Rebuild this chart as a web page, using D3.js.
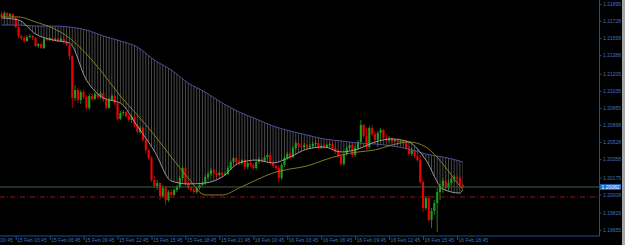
<!DOCTYPE html>
<html>
<head>
<meta charset="utf-8">
<script src="https://cdn.jsdelivr.net/npm/d3@7"></script>
<style>
  html, body { margin: 0; padding: 0; background: #000; }
  svg { display: block; }
</style>
</head>
<body>
<div id="chart"></div>
<script>
var width = 625;
var height = 245;
var plotRight = 599.5;
var plotBottom = 236;

// EURUSD M15, 15 Feb 02:30 .. 16 Feb 19:15
var barStartLabel = "15 Feb 02:30";
var barMinutes = 15;

var opens = [
  1.21796,1.21767,1.21806,1.21776,1.21796,1.21757,1.21667,1.21578,1.21558,1.21529,
  1.21568,1.21578,1.21558,1.21479,1.21499,1.21459,1.21549,1.21539,1.21558,1.21539,
  1.21549,1.21529,1.21549,1.21519,1.21489,1.21380,1.20964,1.21043,1.20944,1.21023,
  1.20974,1.20865,1.20984,1.20954,1.21003,1.20974,1.21013,1.20944,1.20865,1.20944,
  1.20984,1.20914,1.20756,1.20815,1.20825,1.20785,1.20746,1.20776,1.20696,1.20627,
  1.20667,1.20548,1.20449,1.20369,1.20151,1.20092,1.20121,1.19993,1.20072,1.19953,
  1.20032,1.20003,1.20052,1.20082,1.20171,1.20270,1.20112,1.20072,1.20052,1.20032,
  1.20072,1.20102,1.20121,1.20181,1.20211,1.20250,1.20221,1.20201,1.20221,1.20201,
  1.20211,1.20270,1.20330,1.20369,1.20330,1.20320,1.20349,1.20280,1.20320,1.20300,
  1.20270,1.20330,1.20359,1.20339,1.20379,1.20399,1.20320,1.20290,1.20270,1.20171,
  1.20300,1.20369,1.20409,1.20379,1.20468,1.20518,1.20488,1.20478,1.20498,1.20478,
  1.20488,1.20508,1.20518,1.20478,1.20488,1.20478,1.20498,1.20508,1.20468,1.20429,
  1.20389,1.20310,1.20409,1.20468,1.20498,1.20399,1.20468,1.20528,1.20696,1.20587,
  1.20478,1.20667,1.20607,1.20548,1.20617,1.20647,1.20567,1.20548,1.20567,1.20538,
  1.20548,1.20528,1.20538,1.20518,1.20468,1.20409,1.20449,1.20389,1.20349,1.20131,
  1.19874,1.19973,1.19755,1.19844,1.19923,1.20032,1.20092,1.20141,1.20072,1.20121,
  1.20161,1.20181,1.20171,1.20102
];
var highs = [
  1.21816,1.21826,1.21816,1.21806,1.21806,1.21767,1.21677,1.21588,1.21578,1.21588,
  1.21598,1.21588,1.21568,1.21509,1.21519,1.21568,1.21558,1.21568,1.21568,1.21558,
  1.21558,1.21568,1.21568,1.21529,1.21499,1.21390,1.21093,1.21063,1.21043,1.21053,
  1.20994,1.21003,1.21013,1.21023,1.21023,1.21033,1.21023,1.20964,1.20964,1.21003,
  1.20994,1.20924,1.20835,1.20845,1.20835,1.20805,1.20795,1.20785,1.20716,1.20686,
  1.20676,1.20567,1.20458,1.20389,1.20191,1.20151,1.20131,1.20102,1.20092,1.20052,
  1.20062,1.20072,1.20102,1.20191,1.20290,1.20300,1.20131,1.20092,1.20072,1.20092,
  1.20121,1.20141,1.20201,1.20230,1.20270,1.20260,1.20240,1.20240,1.20230,1.20230,
  1.20290,1.20349,1.20389,1.20379,1.20349,1.20359,1.20359,1.20339,1.20349,1.20320,
  1.20349,1.20379,1.20369,1.20399,1.20419,1.20409,1.20339,1.20310,1.20300,1.20320,
  1.20389,1.20429,1.20429,1.20488,1.20548,1.20538,1.20508,1.20518,1.20508,1.20508,
  1.20528,1.20538,1.20528,1.20498,1.20508,1.20508,1.20518,1.20528,1.20488,1.20449,
  1.20409,1.20429,1.20488,1.20518,1.20518,1.20488,1.20548,1.20746,1.20706,1.20667,
  1.20686,1.20696,1.20637,1.20637,1.20667,1.20657,1.20607,1.20587,1.20577,1.20558,
  1.20558,1.20548,1.20548,1.20548,1.20488,1.20468,1.20458,1.20449,1.20399,1.20151,
  1.19993,1.19993,1.19874,1.19953,1.20072,1.20112,1.20171,1.20191,1.20151,1.20181,
  1.20201,1.20201,1.20191,1.20112
];
var lows = [
  1.21757,1.21757,1.21767,1.21757,1.21747,1.21658,1.21558,1.21539,1.21509,1.21519,
  1.21558,1.21539,1.21469,1.21459,1.21449,1.21449,1.21529,1.21529,1.21519,1.21529,
  1.21519,1.21519,1.21499,1.21479,1.21340,1.20865,1.20934,1.20914,1.20904,1.20954,
  1.20845,1.20845,1.20934,1.20944,1.20954,1.20954,1.20924,1.20845,1.20855,1.20934,
  1.20894,1.20746,1.20746,1.20785,1.20766,1.20726,1.20716,1.20676,1.20607,1.20607,
  1.20528,1.20419,1.20349,1.20131,1.20072,1.20052,1.19953,1.19973,1.19903,1.19933,
  1.19983,1.19993,1.20032,1.20062,1.20151,1.20092,1.20052,1.20032,1.20012,1.20012,
  1.20052,1.20082,1.20102,1.20161,1.20191,1.20201,1.20181,1.20191,1.20181,1.20191,
  1.20201,1.20250,1.20310,1.20310,1.20300,1.20300,1.20250,1.20260,1.20280,1.20250,
  1.20250,1.20310,1.20320,1.20330,1.20359,1.20300,1.20270,1.20250,1.20131,1.20151,
  1.20280,1.20349,1.20359,1.20369,1.20449,1.20468,1.20458,1.20458,1.20458,1.20458,
  1.20468,1.20488,1.20458,1.20458,1.20458,1.20468,1.20478,1.20449,1.20409,1.20369,
  1.20290,1.20290,1.20389,1.20449,1.20379,1.20379,1.20449,1.20508,1.20567,1.20458,
  1.20458,1.20587,1.20528,1.20478,1.20548,1.20548,1.20538,1.20528,1.20518,1.20528,
  1.20518,1.20518,1.20498,1.20449,1.20389,1.20389,1.20369,1.20330,1.20112,1.19834,
  1.19854,1.19735,1.19676,1.19804,1.19636,1.19953,1.20022,1.20052,1.20052,1.20102,
  1.20131,1.20141,1.20072,1.20072
];
var closes = [
  1.21767,1.21806,1.21776,1.21796,1.21757,1.21667,1.21578,1.21558,1.21529,1.21568,
  1.21578,1.21558,1.21479,1.21499,1.21459,1.21549,1.21539,1.21558,1.21539,1.21549,
  1.21529,1.21549,1.21519,1.21489,1.21380,1.20964,1.21043,1.20944,1.21023,1.20974,
  1.20865,1.20984,1.20954,1.21003,1.20974,1.21013,1.20944,1.20865,1.20944,1.20984,
  1.20914,1.20756,1.20815,1.20825,1.20785,1.20746,1.20776,1.20696,1.20627,1.20667,
  1.20548,1.20449,1.20369,1.20151,1.20092,1.20121,1.19993,1.20072,1.19953,1.20032,
  1.20003,1.20052,1.20082,1.20171,1.20270,1.20112,1.20072,1.20052,1.20032,1.20072,
  1.20102,1.20121,1.20181,1.20211,1.20250,1.20221,1.20201,1.20221,1.20201,1.20211,
  1.20270,1.20330,1.20369,1.20330,1.20320,1.20349,1.20280,1.20320,1.20300,1.20270,
  1.20330,1.20359,1.20339,1.20379,1.20399,1.20320,1.20290,1.20270,1.20171,1.20300,
  1.20369,1.20409,1.20379,1.20468,1.20518,1.20488,1.20478,1.20498,1.20478,1.20488,
  1.20508,1.20518,1.20478,1.20488,1.20478,1.20498,1.20508,1.20468,1.20429,1.20389,
  1.20310,1.20409,1.20468,1.20498,1.20399,1.20468,1.20528,1.20696,1.20587,1.20478,
  1.20667,1.20607,1.20548,1.20617,1.20647,1.20567,1.20548,1.20567,1.20538,1.20548,
  1.20528,1.20538,1.20518,1.20468,1.20409,1.20449,1.20389,1.20349,1.20131,1.19874,
  1.19973,1.19755,1.19844,1.19923,1.20032,1.20092,1.20141,1.20072,1.20121,1.20161,
  1.20181,1.20171,1.20102,1.20082
];

// moving averages, read every 6 bars
var maIndex = [0,6,12,18,24,30,36,42,48,54,60,66,72,78,84,90,96,102,108,114,120,126,132,138,144,150,156,162,163];
var maSlow = [1.21687,1.21687,1.21677,1.21677,1.21667,1.21638,1.21578,1.21529,1.21469,1.21340,
  1.21241,1.21112,1.21023,1.20914,1.20825,1.20756,1.20686,1.20637,1.20597,1.20558,
  1.20538,1.20518,1.20508,1.20488,1.20458,1.20409,1.20379,1.20339,1.20330];
var maMid = [1.21767,1.21767,1.21717,1.21658,1.21558,1.21400,1.21202,1.20984,1.20795,1.20597,
  1.20379,1.20171,1.20003,1.20003,1.20072,1.20151,1.20221,1.20260,1.20290,1.20349,
  1.20399,1.20429,1.20449,1.20498,1.20528,1.20478,1.20310,1.20092,1.20062];
var maFast = [1.21757,1.21737,1.21598,1.21539,1.21509,1.21142,1.20964,1.20914,1.20686,1.20439,
  1.20141,1.20112,1.20121,1.20181,1.20320,1.20349,1.20320,1.20379,1.20458,1.20478,
  1.20429,1.20458,1.20528,1.20558,1.20528,1.20349,1.20062,1.20022,1.20052];

var priceTicks = [1.21895, 1.21728, 1.21558, 1.21388, 1.21205, 1.21035, 1.20865,
  1.20698, 1.20528, 1.20358, 1.20175, 1.20008, 1.19829, 1.19655];
var timeLabels = ["15 Feb 00:45", "15 Feb 03:45", "15 Feb 06:45", "15 Feb 09:45",
  "15 Feb 12:45", "15 Feb 15:45", "15 Feb 18:45", "15 Feb 21:45", "16 Feb 00:45",
  "16 Feb 03:45", "16 Feb 06:45", "16 Feb 09:45", "16 Feb 12:45", "16 Feb 15:45",
  "16 Feb 18:45"];

var bidPrice = 1.20082;
var levelPrice = 1.19983;

var parseTime = function(s) {
  return d3.timeParse("%Y %d %b %H:%M")("2021 " + s);
};
var barStart = parseTime(barStartLabel);
function barTime(i) {
  return new Date(barStart.getTime() + i * barMinutes * 60000);
}

var bars = closes.map(function(c, i) {
  return { t: barTime(i), o: opens[i], h: highs[i], l: lows[i], c: c };
});
var ma = maIndex.map(function(k, j) {
  return { t: barTime(k), slow: maSlow[j], mid: maMid[j], fast: maFast[j] };
});
var timeTicks = timeLabels.map(parseTime);

var x = d3
  .scaleTime()
  .domain([timeTicks[1], timeTicks[14]])
  .range([15.7, 457]);
var y = d3
  .scaleLinear()
  .domain([1.21935, 1.19636])
  .range([0, 232]);

var axisColor = "#1e4f8e";
var labelColor = "#4272bd";
var fontFamily = "'Liberation Sans', Arial, sans-serif";

var svg = d3
  .select("#chart")
  .append("svg")
  .attr("width", width)
  .attr("height", height)
  .style("background", "#000");

var defs = svg.append("defs");
defs
  .append("clipPath")
  .attr("id", "plot-clip")
  .append("rect")
  .attr("x", 0)
  .attr("y", 0)
  .attr("width", plotRight)
  .attr("height", plotBottom);

var band = d3
  .area()
  .x(function(d) { return x(d.t); })
  .y0(function(d) { return y(d.slow); })
  .y1(function(d) { return y(d.fast); })
  .curve(d3.curveMonotoneX);

defs
  .append("clipPath")
  .attr("id", "band-clip")
  .append("path")
  .attr("d", band(ma));

var plot = svg.append("g").attr("clip-path", "url(#plot-clip)");

// hatch between slow and fast average, one stroke per bar
plot
  .append("g")
  .attr("clip-path", "url(#band-clip)")
  .selectAll("line")
  .data(bars)
  .enter()
  .append("line")
  .attr("x1", function(d) { return x(d.t); })
  .attr("x2", function(d) { return x(d.t); })
  .attr("y1", 0)
  .attr("y2", plotBottom)
  .attr("stroke", "#7a7a7a")
  .attr("stroke-width", 0.6);

var bull = "#1f9e1f";
var bear = "#ee0000";

var candles = plot
  .selectAll(".candle")
  .data(bars)
  .enter()
  .append("g")
  .attr("class", "candle");

candles
  .append("line")
  .attr("x1", function(d) { return x(d.t); })
  .attr("x2", function(d) { return x(d.t); })
  .attr("y1", function(d) { return y(d.h); })
  .attr("y2", function(d) { return y(d.l); })
  .attr("stroke", function(d) { return d.c >= d.o ? bull : bear; })
  .attr("stroke-width", 0.8);

candles
  .append("rect")
  .attr("x", function(d) { return x(d.t) - 1.05; })
  .attr("width", 2.1)
  .attr("y", function(d) { return y(Math.max(d.o, d.c)); })
  .attr("height", function(d) {
    return Math.max(0.8, Math.abs(y(d.o) - y(d.c)));
  })
  .attr("fill", function(d) { return d.c >= d.o ? bull : bear; });

var maLine = function(key) {
  return d3
    .line()
    .x(function(d) { return x(d.t); })
    .y(function(d) { return y(d[key]); })
    .curve(d3.curveMonotoneX);
};

plot.append("path").attr("d", maLine("slow")(ma))
  .attr("fill", "none").attr("stroke", "#4e4e9c").attr("stroke-width", 1);
plot.append("path").attr("d", maLine("mid")(ma))
  .attr("fill", "none").attr("stroke", "#8e8a28").attr("stroke-width", 0.9);
plot.append("path").attr("d", maLine("fast")(ma))
  .attr("fill", "none").attr("stroke", "#a8a8a8").attr("stroke-width", 0.9);

// bid line and level line
plot.append("line")
  .attr("x1", 0).attr("x2", plotRight)
  .attr("y1", y(bidPrice)).attr("y2", y(bidPrice))
  .attr("stroke", "#3f623f").attr("stroke-width", 1);
plot.append("line")
  .attr("x1", 0).attr("x2", plotRight)
  .attr("y1", y(levelPrice)).attr("y2", y(levelPrice))
  .attr("stroke", "#b42020").attr("stroke-width", 0.8)
  .attr("stroke-dasharray", "5,2,1,2");

// frame
svg.append("line")
  .attr("x1", plotRight).attr("x2", plotRight)
  .attr("y1", 0).attr("y2", plotBottom)
  .attr("stroke", axisColor).attr("stroke-width", 1);
svg.append("line")
  .attr("x1", 0).attr("x2", plotRight)
  .attr("y1", plotBottom).attr("y2", plotBottom)
  .attr("stroke", axisColor).attr("stroke-width", 1);

var yAxis = svg
  .append("g")
  .attr("transform", "translate(" + plotRight + ",0)")
  .call(
    d3.axisRight(y)
      .tickValues(priceTicks)
      .tickSize(2)
      .tickPadding(1.5)
      .tickFormat(d3.format(".5f"))
  );

var xAxis = svg
  .append("g")
  .attr("transform", "translate(0," + plotBottom + ")")
  .call(
    d3.axisBottom(x)
      .tickValues(timeTicks)
      .tickSize(4)
      .tickFormat(d3.timeFormat("%d %b %H:%M"))
  );

[yAxis, xAxis].forEach(function(g) {
  g.select(".domain").remove();
  g.selectAll(".tick line").attr("stroke", axisColor);
  g.selectAll(".tick text")
    .attr("fill", labelColor)
    .style("font-family", fontFamily)
    .style("font-size", "5px");
});
xAxis.selectAll(".tick text")
  .attr("text-anchor", "start")
  .attr("x", 1)
  .attr("y", 2);

// bid price tag
svg.append("rect")
  .attr("x", plotRight + 0.5)
  .attr("y", y(bidPrice) - 2.8)
  .attr("width", 21)
  .attr("height", 5.6)
  .attr("fill", "#1f6fd6");
svg.append("text")
  .attr("x", plotRight + 2)
  .attr("y", y(bidPrice) + 1.8)
  .attr("fill", "#ffffff")
  .style("font-family", fontFamily)
  .style("font-size", "5px")
  .text(d3.format(".5f")(bidPrice));

// window edge
svg.append("rect")
  .attr("x", 622)
  .attr("y", 0)
  .attr("width", 3)
  .attr("height", height)
  .attr("fill", "#a6a6a6");
</script>
</body>
</html>
